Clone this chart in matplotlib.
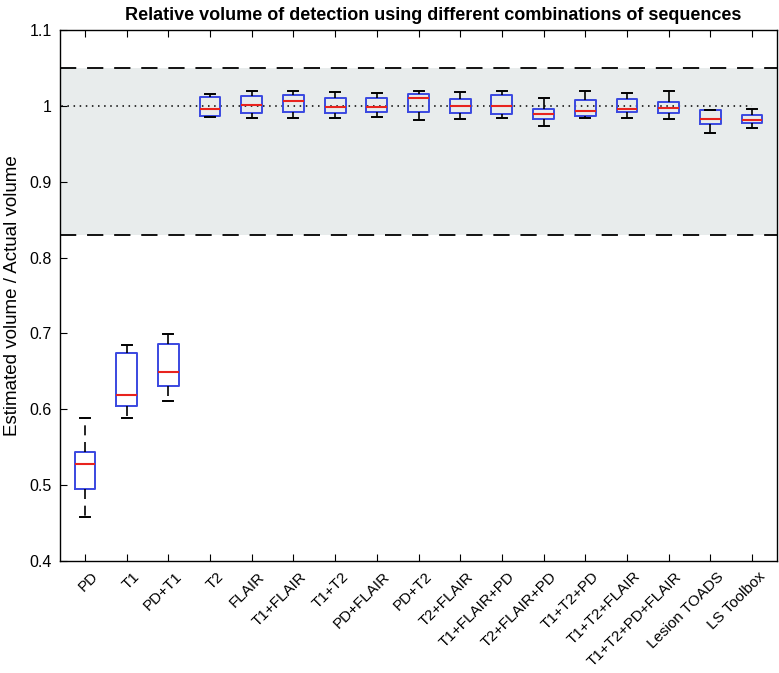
import numpy as np
import matplotlib.pyplot as plt
from matplotlib.transforms import ScaledTranslation

plt.rcParams['font.family'] = ['Liberation Sans', 'DejaVu Sans']

# sequence combinations and box statistics
labels = ['PD', 'T1', 'PD+T1', 'T2', 'FLAIR', 'T1+FLAIR', 'T1+T2', 'PD+FLAIR',
          'PD+T2', 'T2+FLAIR', 'T1+FLAIR+PD', 'T2+FLAIR+PD', 'T1+T2+PD',
          'T1+T2+FLAIR', 'T1+T2+PD+FLAIR', 'Lesion TOADS', 'LS Toolbox']
whislo = [0.4585, 0.588, 0.611, 0.985, 0.9836, 0.9844, 0.984, 0.985,
          0.9814, 0.9823, 0.9836, 0.973, 0.9836, 0.9836, 0.983, 0.964, 0.971]
q1 = [0.4953, 0.6044, 0.6307, 0.9866, 0.990, 0.992, 0.990, 0.992,
      0.9915, 0.991, 0.9893, 0.9823, 0.987, 0.9915, 0.990, 0.976, 0.977]
med = [0.528, 0.6193, 0.649, 0.9963, 1.0015, 1.006, 0.9989, 0.998,
       1.011, 0.9998, 0.9994, 0.989, 0.9937, 0.9955, 0.997, 0.983, 0.982]
q3 = [0.5437, 0.674, 0.686, 1.0113, 1.013, 1.014, 1.0104, 1.010,
      1.015, 1.009, 1.014, 0.9963, 1.0077, 1.009, 1.005, 0.9941, 0.9875]
whishi = [0.589, 0.6848, 0.6997, 1.0156, 1.020, 1.0196, 1.018, 1.0165,
          1.0196, 1.018, 1.019, 1.010, 1.0196, 1.0165, 1.020, 0.9947, 0.9963]

band_lo, band_hi = 0.83, 1.05
ref_value = 1.0

fig = plt.figure(figsize=(7.79, 6.73), dpi=100)
ax = fig.add_axes([0.077, 0.1664, 0.9205, 0.789])

n = len(labels)
pos = np.arange(1, n + 1)

# tolerance band
ax.axhspan(band_lo, band_hi, color='#e8ecec', zorder=0, lw=0)
ax.axhline(band_hi, color='black', ls=(0, (9, 6)), lw=1.3, zorder=1)
ax.axhline(band_lo, color='black', ls=(0, (9, 6)), lw=1.3, zorder=1)
ax.hlines(ref_value, 0, n, color='black', ls=(0, (1, 3)), lw=1.1, zorder=1)

stats = [dict(whislo=a, q1=b, med=c, q3=d, whishi=e, label=l)
         for a, b, c, d, e, l in zip(whislo, q1, med, q3, whishi, labels)]
ax.bxp(stats, positions=pos, widths=0.5, showfliers=False,
       boxprops=dict(color='#3a48e0', lw=1.4),
       medianprops=dict(color='#e8231e', lw=1.5),
       whiskerprops=dict(color='black', lw=1.2, ls=(0, (6, 4))),
       capprops=dict(color='black', lw=1.4),
       capwidths=0.24, zorder=3)

ax.set_xlim(0.4, n + 0.6)
ax.set_ylim(0.4, 1.1)
ax.set_yticks(np.arange(0.4, 1.101, 0.1))
ax.set_yticklabels(['0.4', '0.5', '0.6', '0.7', '0.8', '0.9', '1', '1.1'])
ax.set_xticks(pos)
ax.set_xticklabels(labels, rotation=45, ha='right', va='top',
                   rotation_mode='anchor')
ax.tick_params(axis='x', direction='in', top=True, length=5, labelsize=11, pad=6)
ax.tick_params(axis='y', direction='in', length=5, labelsize=11.5, pad=6)
# nudge rotated labels a little to the right, as in the original
shift = ScaledTranslation(6 / 100, 0, fig.dpi_scale_trans)
for t in ax.get_xticklabels():
    t.set_transform(t.get_transform() + shift)
for s in ax.spines.values():
    s.set_linewidth(1.0)

ax.set_ylabel('Estimated volume / Actual volume', fontsize=13.5)
ax.yaxis.set_label_coords(-0.054, 0.5)
ax.set_title('Relative volume of detection using different combinations of sequences',
             fontsize=13, fontweight='bold', pad=7, x=0.52)

fig.savefig('out.png', dpi=100)
